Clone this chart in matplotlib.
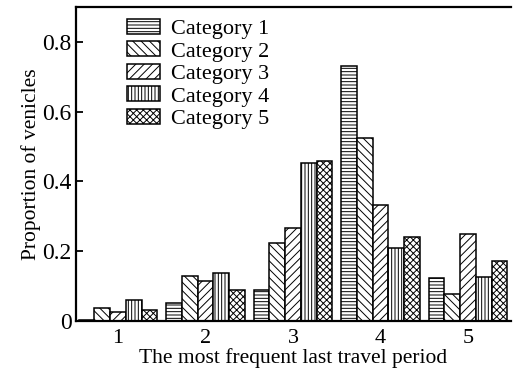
import numpy as np
import matplotlib
matplotlib.use('Agg')
import matplotlib.pyplot as plt

# Data
periods = ['1', '2', '3', '4', '5']
categories = ['Category 1', 'Category 2', 'Category 3', 'Category 4', 'Category 5']
cat1 = [0.002, 0.050, 0.088, 0.730, 0.122]
cat2 = [0.036, 0.127, 0.222, 0.524, 0.077]
cat3 = [0.026, 0.115, 0.265, 0.332, 0.249]
cat4 = [0.060, 0.138, 0.452, 0.210, 0.126]
cat5 = [0.031, 0.088, 0.457, 0.240, 0.172]
yticks = [0, 0.2, 0.4, 0.6, 0.8]
ytick_labels = ['0', '0.2', '0.4', '0.6', '0.8']

plt.rcParams['font.family'] = ['Liberation Serif', 'DejaVu Serif']
plt.rcParams['hatch.linewidth'] = 0.7

fig = plt.figure(figsize=(5.13, 3.71), dpi=100)
ax = fig.add_axes([0.148, 0.1356, 0.848, 0.8455])

series = [cat1, cat2, cat3, cat4, cat5]
hatches = ['-----', '\\\\\\\\', '////', '|||||', 'xxxxx']
x = np.arange(1, len(periods) + 1)
width = 0.18

for i, (vals, name, h) in enumerate(zip(series, categories, hatches)):
    ax.bar(x + (i - 2) * width, vals, width, label=name, hatch=h,
           facecolor='white', edgecolor='black', linewidth=1.1)

ax.set_xlim(0.52, 5.49)
ax.set_ylim(0, 0.9)
ax.set_xticks(x)
ax.set_xticklabels(periods)
ax.set_yticks(yticks)
ax.set_yticklabels(ytick_labels)
ax.tick_params(axis='x', length=0, labelsize=16, pad=6)
ax.tick_params(axis='y', direction='in', length=5, width=1.3, labelsize=17, pad=3)
ax.spines['right'].set_visible(False)
for s in ['top', 'left', 'bottom']:
    ax.spines[s].set_linewidth(1.6)

ax.set_xlabel('The most frequent last travel period', fontsize=15.5, labelpad=0)
ax.set_ylabel('Proportion of venicles', fontsize=15.5, labelpad=1)

ax.legend(loc='upper left', bbox_to_anchor=(0.085, 1.008), frameon=False,
          fontsize=16, handlelength=1.45, handleheight=0.65, handletextpad=0.5,
          labelspacing=0.1, borderpad=0.15)

plt.savefig('out.png', dpi=100)
